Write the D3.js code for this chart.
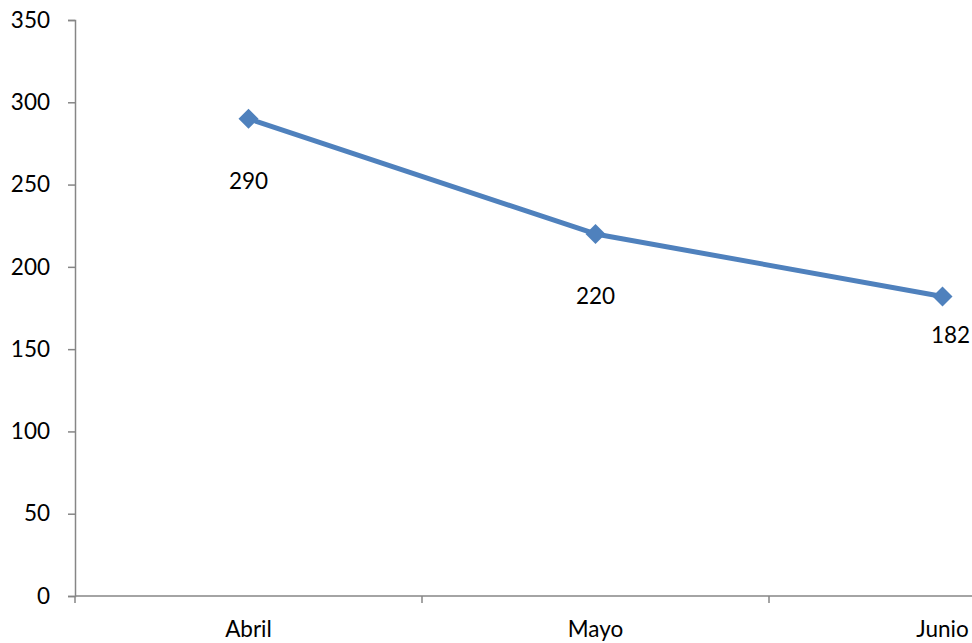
<!DOCTYPE html>
<html><head><meta charset="utf-8">
<script src="https://cdn.jsdelivr.net/npm/d3@7"></script>
<style>body{margin:0;background:#fff}svg{display:block}text{font-family:Lato,"Open Sans",sans-serif}</style>
</head><body><svg id="c" width="972" height="643"></svg>
<script>
const categories = ["Abril","Mayo","Junio"];
const values = [290,220,182];
const yTicks = [0,50,100,150,200,250,300,350];

(function(){
const svg = d3.select("#c");
const mLeft = 75, mTop = 20, mBottom = 596, band = 347;
const fs = 22.5;
const x = d3.scaleBand().domain(categories).range([mLeft, mLeft + band*categories.length]).paddingInner(0).paddingOuter(0);
const y = d3.scaleLinear().domain([0,350]).range([mBottom, mTop]);
const axisColor = "#868686";

// y axis
const ya = svg.append("g").attr("transform",`translate(${mLeft},0)`)
  .call(d3.axisLeft(y).tickValues(yTicks).tickSize(7).tickPadding(18).tickFormat(d3.format("d")));
ya.select(".domain").attr("stroke",axisColor).attr("stroke-width",1.5);
ya.selectAll(".tick line").attr("stroke",axisColor).attr("stroke-width",1.5);
ya.selectAll(".tick text").attr("font-size",fs).attr("fill","#000");

// x axis
const xa = svg.append("g").attr("transform",`translate(0,${mBottom})`);
xa.append("line").attr("x1",mLeft).attr("x2",x.range()[1]).attr("stroke",axisColor).attr("stroke-width",1.5);
const bounds = categories.map(c => x(c)).concat([x.range()[1]]);
xa.selectAll("line.t").data(bounds).enter().append("line").attr("class","t")
  .attr("x1",d=>d).attr("x2",d=>d).attr("y1",0).attr("y2",7).attr("stroke",axisColor).attr("stroke-width",1.5);
xa.selectAll("text").data(categories).enter().append("text")
  .attr("x",d=>x(d)+x.bandwidth()/2).attr("y",41).attr("text-anchor","middle")
  .attr("font-size",fs).attr("fill","#000").text(d=>d);

// line
const pts = categories.map((c,i)=>[x(c)+x.bandwidth()/2, y(values[i])]);
svg.append("path").attr("d",d3.line()(pts)).attr("fill","none").attr("stroke","#4F81BD").attr("stroke-width",5).attr("stroke-linejoin","round");
svg.selectAll("path.m").data(pts).enter().append("path").attr("class","m")
  .attr("d",d3.symbol().type(d3.symbolDiamond2).size(255))
  .attr("transform",d=>`translate(${d[0]},${d[1]})`).attr("fill","#4F81BD");

// data labels
const labelDx = [0,0,8], labelDy = [70,70,47];
svg.selectAll("text.lbl").data(values).enter().append("text").attr("class","lbl")
  .attr("x",(d,i)=>pts[i][0]+labelDx[i]).attr("y",(d,i)=>pts[i][1]+labelDy[i])
  .attr("text-anchor","middle").attr("font-size",fs).attr("fill","#000").text(d=>d);
})();
</script></body></html>
